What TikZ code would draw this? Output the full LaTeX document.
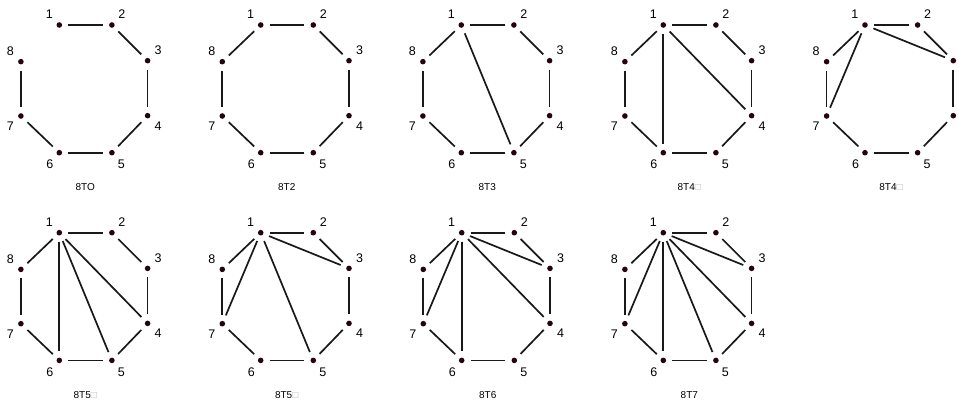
\documentclass[tikz,border=0pt]{standalone}
\usepackage{fontspec}
\setmainfont{Liberation Sans}
\usepackage{tikz}
\usetikzlibrary{positioning}
\definecolor{dotcol}{RGB}{38,4,10}

% octagon of vertices 1..8, #1 name, (#2,#3) position of vertex 1, #4 caption
\newcommand{\octo}[4]{%
  \begin{scope}[shift={(#2,#3)}]
    \node[vtx, label={[num]135:1}] (#1-1) at (0,0) {};
    \node[vtx, label={[num]45:2}] (#1-2) at (52.6,0) {};
    \node[vtx, label={[num]40:3}] (#1-3) at (88.3,35.7) {};
    \node[vtx, label={[num]-40:4}] (#1-4) at (88.3,90.7) {};
    \node[vtx, label={[num]-50:5}] (#1-5) at (52.6,127.7) {};
    \node[vtx, label={[num]-130:6}] (#1-6) at (0,127.7) {};
    \node[vtx, label={[num]-140:7}] (#1-7) at (-38.4,91) {};
    \node[vtx, label={[num]140:8}] (#1-8) at (-38.4,36.7) {};
    \node[caption] (#1-c) at (26,162) {#4};
  \end{scope}}

\begin{document}
\begin{tikzpicture}[x=1pt, y=-1pt]

    % --- Styles ---
    \tikzset{
        vtx/.style={circle, fill=dotcol, draw=none, inner sep=0pt, minimum size=5.6pt},
        num/.style={inner sep=0pt, label distance=6pt, font=\fontsize{12.5}{14}\selectfont},
        caption/.style={inner sep=0pt, font=\fontsize{10}{12}\selectfont},
        edge/.style={line width=1.7pt, black!90, shorten <=6pt, shorten >=6pt},
        tofu/.style={gray!60}
    }

    \useasboundingbox (0,0) rectangle (959,403);

    % --- Graphs, top row ---
    \octo{ga}{59.3}{25}{8TO}
    \octo{gb}{260.7}{25}{8T2}
    \octo{gc}{461.3}{25}{8T3}
    \octo{gd}{663.3}{25}{8T4{\color{gray!60}□}}
    \octo{ge}{865}{25}{8T4{\color{gray!60}□}}

    % --- Graphs, bottom row ---
    \octo{gf}{59.3}{232.7}{8T5{\color{gray!60}□}}
    \octo{gg}{260.7}{232.7}{8T5{\color{gray!60}□}}
    \octo{gh}{461.7}{232.7}{8T6}
    \octo{gi}{663.3}{232.7}{8T7}

    % --- Edges ---
    \foreach \a/\b in {1/2,2/3,3/4,4/5,5/6,6/7,7/8}
        \draw[edge] (ga-\a) -- (ga-\b);
    \foreach \g in {gb,gc,gd,ge,gf,gg,gh,gi}
        \foreach \a/\b in {1/2,2/3,3/4,4/5,5/6,6/7,7/8,8/1}
            \draw[edge] (\g-\a) -- (\g-\b);

    % chords from vertex 1
    \draw[edge] (gc-1) -- (gc-5);
    \foreach \b in {6,4} \draw[edge] (gd-1) -- (gd-\b);
    \foreach \b in {3,7} \draw[edge] (ge-1) -- (ge-\b);
    \foreach \b in {4,5,6} \draw[edge] (gf-1) -- (gf-\b);
    \foreach \b in {3,5,7} \draw[edge] (gg-1) -- (gg-\b);
    \foreach \b in {3,4,6,7} \draw[edge] (gh-1) -- (gh-\b);
    \foreach \b in {3,4,5,6,7} \draw[edge] (gi-1) -- (gi-\b);

\end{tikzpicture}
\end{document}
